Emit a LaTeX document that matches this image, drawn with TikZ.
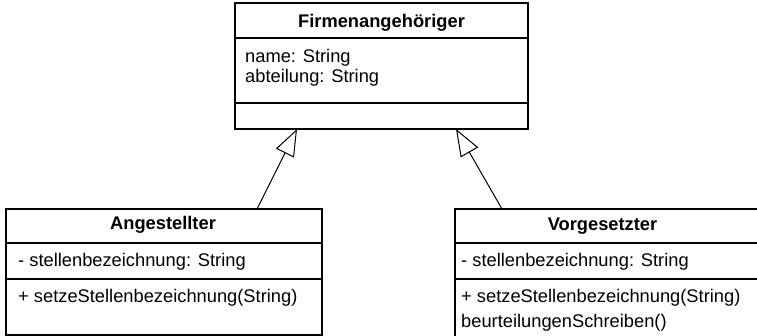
\documentclass[tikz,border=0pt]{standalone}
\usepackage{fontspec}
\setmainfont{Liberation Sans}
\usetikzlibrary{arrows.meta}
\begin{document}
\begin{tikzpicture}[x=1pt,y=-1pt,
  classbox/.style={draw=black, line width=2pt, rectangle, inner sep=0pt, outer sep=0pt, anchor=north west},
  divider/.style={line width=2pt},
  headtxt/.style={font=\fontsize{18.3}{20}\selectfont\bfseries, inner sep=0pt, anchor=base},
  membertxt/.style={font=\fontsize{18.3}{20}\selectfont, inner sep=0pt, anchor=base west},
  inherit/.style={line width=1pt, -{Triangle[open, length=27pt, width=20pt, line width=1pt]}}
]
\useasboundingbox (0,0) rectangle (757,336);
\clip (0,0) rectangle (757,336);
\fill[white] (0,0) rectangle (757,336);

% Firmenangehoeriger
\node[classbox, minimum width=293pt, minimum height=126pt] (firm) at (235,3) {};
\draw[divider] (235,38) -- (528,38);
\draw[divider] (235,103) -- (528,103);
\node[headtxt] (firmname) at (381.5,28) {Firmenangehöriger};
\node[membertxt] (firma1) at (245,63) {name: String};
\node[membertxt] (firma2) at (245,83) {abteilung: String};

% Angestellter
\node[classbox, minimum width=316pt, minimum height=126pt] (ang) at (6,209) {};
\draw[divider] (6,243) -- (322,243);
\draw[divider] (6,279) -- (322,279);
\node[headtxt] (angname) at (163,230) {Angestellter};
\node[membertxt] (anga1) at (18,267) {- stellenbezeichnung: String};
\node[membertxt] (angm1) at (18,303) {+ setzeStellenbezeichnung(String)};

% Vorgesetzter
\node[classbox, minimum width=320pt, minimum height=160pt] (vor) at (455,209) {};
\draw[divider] (455,243) -- (775,243);
\draw[divider] (455,279) -- (775,279);
\node[headtxt] (vorname) at (602.5,231) {Vorgesetzter};
\node[membertxt] (vora1) at (461,267) {- stellenbezeichnung: String};
\node[membertxt] (vorm1) at (461,303) {+ setzeStellenbezeichnung(String)};
\node[membertxt] (vorm2) at (461,327) {beurteilungenSchreiben()};

% inheritance
\coordinate (angtop) at (257,209);
\coordinate (firmL) at (297,129);
\coordinate (vortop) at (502,209);
\coordinate (firmR) at (456,129);
\draw[inherit] (angtop) -- (firmL);
\draw[inherit] (vortop) -- (firmR);
\end{tikzpicture}
\end{document}
